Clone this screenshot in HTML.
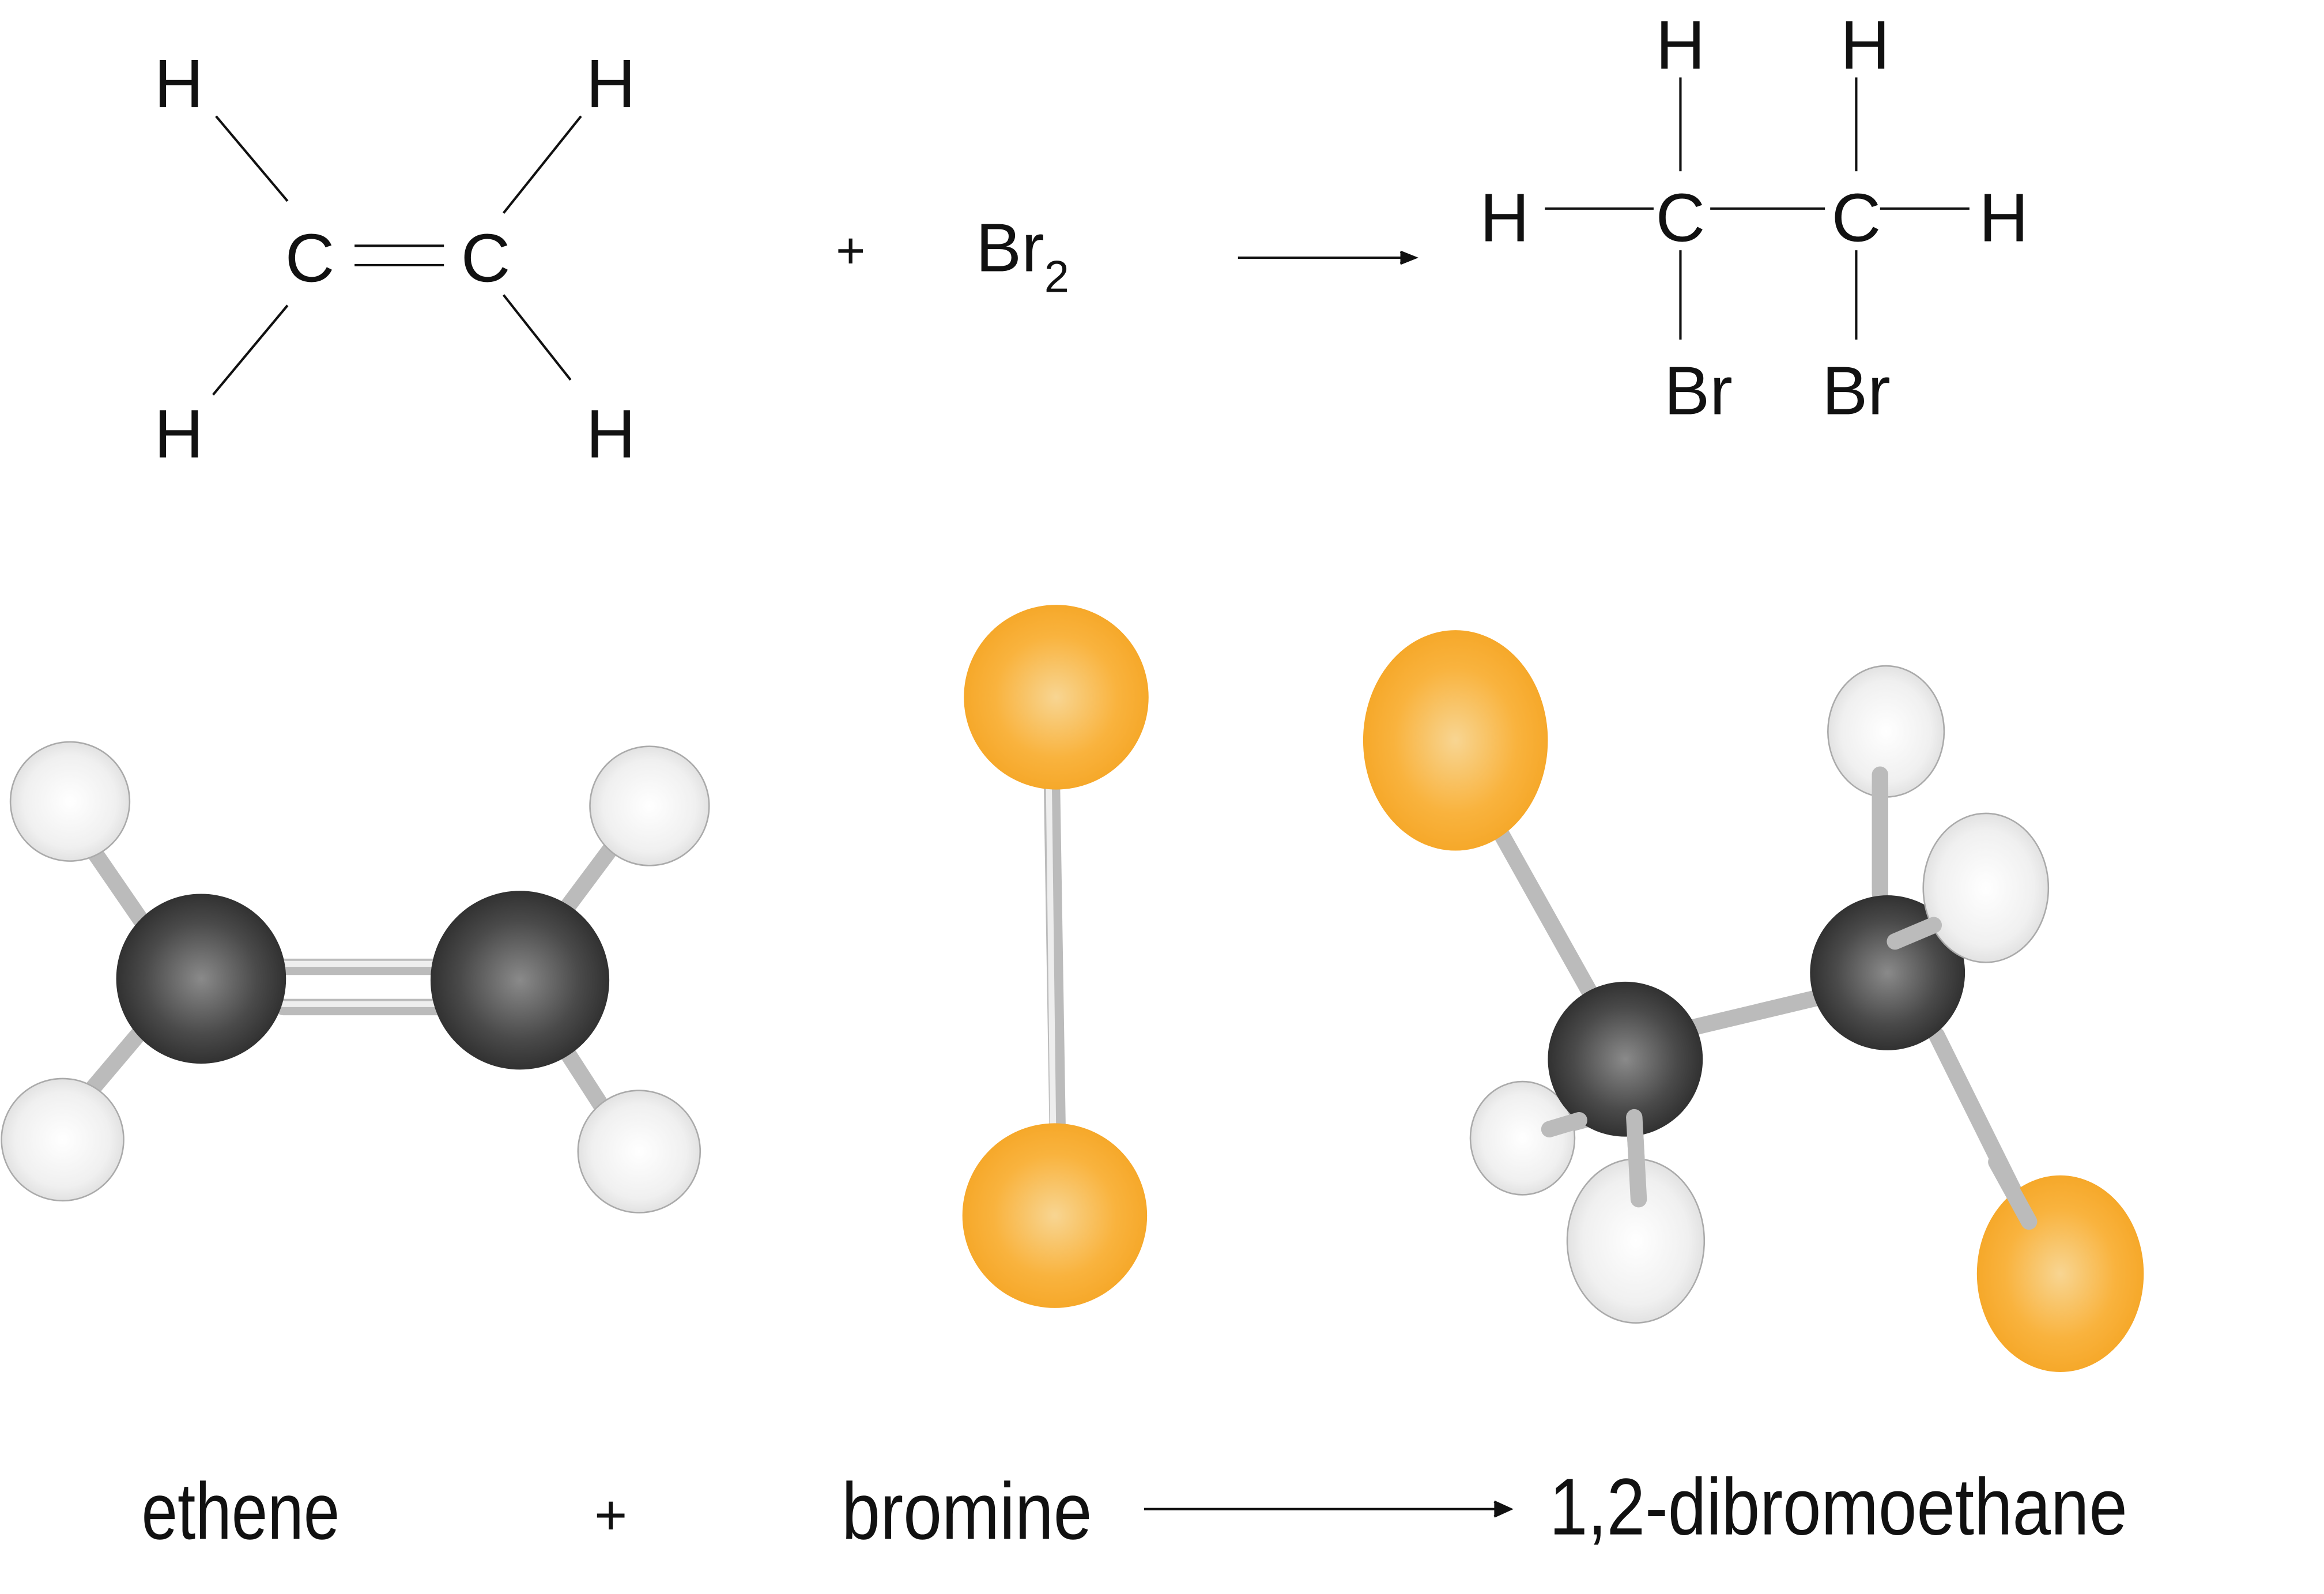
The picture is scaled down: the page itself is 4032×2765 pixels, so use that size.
<!DOCTYPE html>
<html><head><meta charset="utf-8"><style>
html,body{margin:0;padding:0;background:#fff;}
svg{display:block;}
text{font-family:"Liberation Sans",sans-serif;fill:#111;}
</style></head><body>
<svg width="4032" height="2765" viewBox="0 0 1560 1070" preserveAspectRatio="none" xmlns="http://www.w3.org/2000/svg">
<defs>
<radialGradient id="gc" cx="0.5" cy="0.5" r="0.55"><stop offset="0" stop-color="#8a8a8a"/><stop offset="0.6" stop-color="#4a4a4a"/><stop offset="1" stop-color="#2a2a2a"/></radialGradient>
<radialGradient id="gh" cx="0.5" cy="0.5" r="0.55"><stop offset="0" stop-color="#ffffff"/><stop offset="0.7" stop-color="#f0f0f0"/><stop offset="1" stop-color="#dcdcdc"/></radialGradient>
<radialGradient id="gb" cx="0.5" cy="0.5" r="0.55"><stop offset="0" stop-color="#f8d592"/><stop offset="0.6" stop-color="#f9b33e"/><stop offset="1" stop-color="#f5a524"/></radialGradient>
</defs>
<g stroke="#111" stroke-width="1.6" fill="none">
<line x1="145" y1="78" x2="193" y2="135"/><line x1="390" y1="78" x2="338" y2="143"/>
<line x1="143" y1="265" x2="193" y2="205"/><line x1="383" y1="255" x2="338" y2="198"/>
<line x1="238" y1="165" x2="298" y2="165"/><line x1="238" y1="178" x2="298" y2="178"/>
<line x1="831" y1="173" x2="945" y2="173"/><path d="M940 169 L950 173 L940 177" fill="#111"/>
<line x1="1128" y1="52" x2="1128" y2="115"/><line x1="1246" y1="52" x2="1246" y2="115"/>
<line x1="1037" y1="140" x2="1110" y2="140"/><line x1="1148" y1="140" x2="1225" y2="140"/><line x1="1262" y1="140" x2="1322" y2="140"/>
<line x1="1128" y1="168" x2="1128" y2="228"/><line x1="1246" y1="168" x2="1246" y2="228"/>
<line x1="768" y1="1013" x2="1005" y2="1013"/><path d="M1003 1008 L1014 1013 L1003 1018" fill="#111"/>
</g>
<g font-size="46" text-anchor="middle">
<text x="120" y="72">H</text><text x="410" y="72">H</text><text x="120" y="307">H</text><text x="410" y="307">H</text>
<text x="208" y="189">C</text><text x="326" y="189">C</text>
<text x="571" y="180" font-size="34">+</text>
<text x="1128" y="46">H</text><text x="1252" y="46">H</text><text x="1010" y="162">H</text><text x="1345" y="162">H</text>
<text x="1128" y="162">C</text><text x="1246" y="162">C</text>
<text x="1140" y="278">Br</text><text x="1246" y="278">Br</text>
</g>
<text x="655" y="182" font-size="46">Br<tspan font-size="30" dy="14">2</tspan></text>
<g font-size="54">
<text x="95" y="1033" textLength="133" lengthAdjust="spacingAndGlyphs">ethene</text>
<text x="410" y="1030" text-anchor="middle" font-size="38">+</text>
<text x="565" y="1033" textLength="168" lengthAdjust="spacingAndGlyphs">bromine</text>
<text x="1040" y="1030" textLength="388" lengthAdjust="spacingAndGlyphs">1,2-dibromoethane</text>
</g>
<g stroke-linecap="round">
<g stroke="#bbb" stroke-width="11">
<line x1="55" y1="560" x2="110" y2="640"/><line x1="50" y1="745" x2="105" y2="680"/>
<line x1="415" y1="563" x2="365" y2="630"/><line x1="410" y1="752" x2="370" y2="690"/>
<line x1="190" y1="649" x2="300" y2="649"/><line x1="190" y1="676" x2="300" y2="676"/>
<line x1="706" y1="520" x2="710" y2="765"/>
<line x1="1005" y1="555" x2="1075" y2="680"/><line x1="1135" y1="690" x2="1240" y2="665"/>
<line x1="1262" y1="520" x2="1262" y2="600"/><line x1="1300" y1="695" x2="1362" y2="820"/>
<line x1="1040" y1="758" x2="1070" y2="750"/><line x1="1097" y1="750" x2="1100" y2="805"/>
<line x1="1272" y1="632" x2="1300" y2="620"/>
</g>
<g stroke="#eee" stroke-width="4">
<line x1="190" y1="647" x2="300" y2="647"/><line x1="190" y1="674" x2="300" y2="674"/>
<line x1="704" y1="520" x2="707" y2="765"/>
</g>
</g>
<g stroke="#aaa" stroke-width="1">
<circle cx="47" cy="538" r="40" fill="url(#gh)"/><circle cx="42" cy="765" r="41" fill="url(#gh)"/>
<circle cx="436" cy="541" r="40" fill="url(#gh)"/><circle cx="429" cy="773" r="41" fill="url(#gh)"/>
</g>
<circle cx="135" cy="657" r="57" fill="url(#gc)"/><circle cx="349" cy="658" r="60" fill="url(#gc)"/>
<circle cx="709" cy="468" r="62" fill="url(#gb)"/><circle cx="708" cy="816" r="62" fill="url(#gb)"/>
<ellipse cx="977" cy="497" rx="62" ry="74" fill="url(#gb)"/>
<g stroke="#aaa" stroke-width="1">
<ellipse cx="1266" cy="491" rx="39" ry="44" fill="url(#gh)"/>
<ellipse cx="1022" cy="764" rx="35" ry="38" fill="url(#gh)"/>
</g>
<circle cx="1267" cy="653" r="52" fill="url(#gc)"/>
<circle cx="1091" cy="711" r="52" fill="url(#gc)"/>
<g stroke="#aaa" stroke-width="1">
<ellipse cx="1333" cy="596" rx="42" ry="50" fill="url(#gh)"/>
<ellipse cx="1098" cy="833" rx="46" ry="55" fill="url(#gh)"/>
</g>
<ellipse cx="1383" cy="855" rx="56" ry="66" fill="url(#gb)"/>
<g stroke="#bbb" stroke-width="11" stroke-linecap="round">
<line x1="1262" y1="520" x2="1262" y2="595"/><line x1="1272" y1="632" x2="1298" y2="621"/>
<line x1="1097" y1="750" x2="1100" y2="805"/><line x1="1040" y1="758" x2="1060" y2="752"/>
<line x1="1340" y1="780" x2="1362" y2="820"/>
</g>
</svg>
</body></html>
